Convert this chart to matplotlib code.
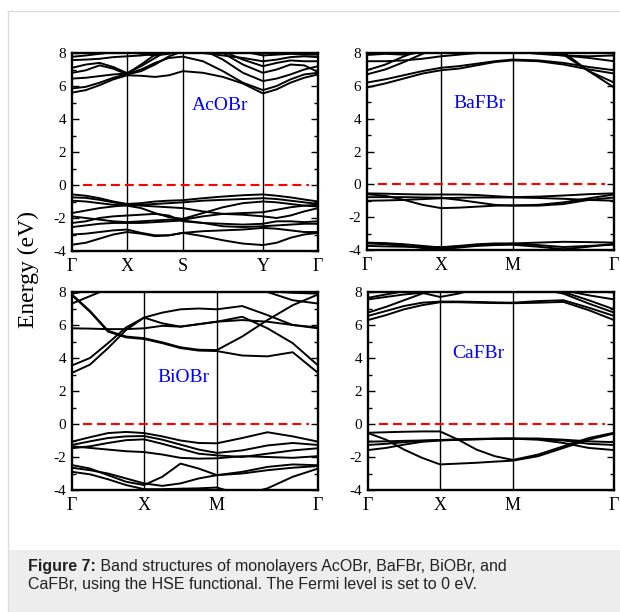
import matplotlib
matplotlib.use('Agg')
import matplotlib.pyplot as plt
import numpy as np
from matplotlib.ticker import MultipleLocator
from matplotlib.patches import Rectangle
from matplotlib.lines import Line2D

plt.rcParams['font.family'] = ['Liberation Serif', 'DejaVu Serif']
plt.rcParams['axes.unicode_minus'] = False

# ---- path labels / high-symmetry positions (fraction of path length)
acobr_labels = ['Γ', 'X', 'S', 'Y', 'Γ']
acobr_kpos = [0.0, 0.224, 0.451, 0.776, 1.0]
sq_labels = ['Γ', 'X', 'M', 'Γ']
bafbr_kpos = [0.0, 0.30, 0.59, 1.0]
biobr_kpos = [0.0, 0.293, 0.589, 1.0]
cafbr_kpos = [0.0, 0.293, 0.589, 1.0]

# ---- AcOBr bands (values at G, 3 pts, X, 3 pts, S, 3 pts, Y, 3 pts, G)
acobr_bands = [
    [-0.57, -0.65, -0.8, -1.0, -1.15, -1.1, -1.0, -0.95, -0.92, -0.8, -0.7, -0.62, -0.57, -0.65, -0.75, -0.88, -1.0],
    [-0.75, -0.78, -0.9, -1.05, -1.2, -1.2, -1.15, -1.1, -1.05, -0.95, -0.9, -0.85, -0.8, -0.85, -0.95, -1.05, -1.15],
    [-0.95, -1.0, -1.1, -1.2, -1.25, -1.4, -1.7, -1.95, -2.05, -1.7, -1.35, -1.1, -1.0, -1.05, -1.15, -1.25, -1.3],
    [-1.7, -1.55, -1.4, -1.3, -1.22, -1.25, -1.3, -1.35, -1.4, -1.6, -1.75, -1.7, -1.65, -1.5, -1.35, -1.25, -1.2],
    [-1.9, -2.0, -2.1, -2.2, -2.25, -2.2, -2.15, -2.1, -2.1, -1.9, -1.75, -1.8, -1.9, -2.0, -1.85, -1.6, -1.4],
    [-2.3, -2.2, -2.0, -1.9, -1.85, -1.8, -1.75, -1.85, -2.2, -2.3, -2.35, -2.4, -2.35, -2.2, -2.2, -2.25, -2.2],
    [-2.55, -2.45, -2.35, -2.3, -2.3, -2.3, -2.25, -2.2, -2.15, -2.3, -2.5, -2.55, -2.5, -2.45, -2.4, -2.35, -2.35],
    [-3.0, -2.95, -2.85, -2.75, -2.7, -2.9, -3.05, -3.05, -2.9, -2.8, -2.75, -2.7, -2.6, -2.65, -2.75, -2.85, -2.85],
    [-3.62, -3.5, -3.25, -3.0, -2.85, -2.95, -3.1, -3.05, -2.9, -3.1, -3.35, -3.55, -3.64, -3.5, -3.2, -3.0, -2.9],
    [5.6, 5.75, 6.05, 6.4, 6.65, 6.62, 6.55, 6.65, 6.9, 6.8, 6.55, 6.15, 5.55, 5.8, 6.2, 6.5, 6.7],
    [5.85, 5.95, 6.2, 6.5, 6.72, 7.0, 7.4, 7.7, 7.78, 7.5, 6.9, 6.2, 5.75, 6.0, 6.4, 6.7, 6.8],
    [6.45, 6.5, 6.6, 6.7, 6.75, 7.3, 7.9, 8.3, 8.5, 8.2, 7.6, 6.8, 6.3, 6.45, 6.7, 7.0, 7.2],
    [6.8, 6.95, 7.25, 7.05, 6.7, 6.9, 7.3, 7.8, 8.1, 8.3, 8.0, 7.3, 6.8, 7.0, 7.3, 7.25, 6.85],
    [7.1, 7.3, 7.4, 7.15, 6.78, 7.2, 7.7, 8.2, 8.5, 8.5, 8.1, 7.6, 7.2, 7.4, 7.55, 7.5, 7.5],
    [7.57, 7.6, 7.65, 7.75, 7.8, 7.85, 7.95, 8.0, 8.05, 8.0, 7.85, 7.7, 7.5, 7.6, 7.75, 7.8, 7.75],
    [7.77, 7.85, 7.95, 8.05, 8.1, 7.95, 7.85, 7.95, 8.2, 8.3, 8.3, 8.1, 7.85, 7.9, 7.95, 7.9, 7.9],
]

# ---- BaFBr bands (G, 3 pts, X, 3 pts, M, 3 pts, G)
bafbr_bands = [
    [-0.55, -0.57, -0.6, -0.62, -0.62, -0.62, -0.65, -0.72, -0.78, -0.75, -0.68, -0.6, -0.55],
    [-0.6, -0.7, -0.95, -1.25, -1.45, -1.42, -1.36, -1.3, -1.28, -1.25, -1.1, -0.85, -0.62],
    [-0.78, -0.78, -0.78, -0.8, -0.82, -0.95, -1.1, -1.25, -1.3, -1.3, -1.2, -0.95, -0.8],
    [-1.0, -0.98, -0.95, -0.9, -0.85, -0.82, -0.8, -0.8, -0.8, -0.83, -0.88, -0.95, -1.0],
    [-3.55, -3.58, -3.65, -3.75, -3.85, -3.75, -3.65, -3.6, -3.6, -3.55, -3.5, -3.52, -3.55],
    [-3.6, -3.65, -3.75, -3.88, -3.95, -3.85, -3.75, -3.7, -3.68, -3.8, -3.95, -3.8, -3.62],
    [-3.75, -3.78, -3.8, -3.82, -3.82, -3.78, -3.72, -3.65, -3.62, -3.7, -3.82, -3.75, -3.68],
    [5.9, 6.15, 6.45, 6.75, 6.95, 7.05, 7.25, 7.45, 7.55, 7.5, 7.3, 7.0, 6.75],
    [6.2, 6.4, 6.65, 6.9, 7.1, 7.2, 7.35, 7.5, 7.6, 7.55, 7.4, 7.15, 6.95],
    [6.7, 7.0, 7.45, 7.95, 8.3, 8.4, 8.4, 8.3, 8.2, 8.1, 7.9, 6.9, 6.2],
    [6.95, 7.3, 7.8, 8.2, 8.5, 8.6, 8.6, 8.5, 8.4, 8.3, 8.05, 6.9, 5.9],
    [7.5, 7.5, 7.55, 7.65, 7.8, 7.9, 8.0, 8.05, 8.1, 8.0, 7.85, 7.7, 7.5],
    [7.88, 7.95, 7.9, 8.05, 8.2, 8.3, 8.3, 8.2, 8.1, 7.95, 7.85, 7.8, 7.85],
]

# ---- BiOBr bands
biobr_bands = [
    [-1.07, -0.8, -0.55, -0.48, -0.55, -0.75, -1.0, -1.15, -1.17, -0.85, -0.5, -0.75, -1.07],
    [-1.27, -1.05, -0.85, -0.75, -0.73, -0.95, -1.25, -1.55, -1.75, -1.6, -1.3, -1.15, -1.27],
    [-1.47, -1.35, -1.15, -0.98, -0.93, -1.2, -1.5, -1.8, -1.9, -2.0, -1.8, -1.6, -1.47],
    [-1.35, -1.45, -1.55, -1.65, -1.7, -1.85, -2.05, -2.1, -2.08, -1.95, -2.0, -2.05, -1.95],
    [-2.49, -2.7, -3.1, -3.5, -3.7, -3.2, -2.4, -2.7, -3.1, -2.9, -2.6, -2.45, -2.5],
    [-2.9, -3.05, -3.35, -3.7, -3.95, -3.95, -3.92, -3.9, -3.85, -4.3, -3.9, -3.2, -2.7],
    [-2.65, -2.8, -3.0, -3.3, -3.6, -3.75, -3.6, -3.3, -3.1, -3.0, -2.8, -2.65, -2.55],
    [3.1, 3.6, 4.6, 5.7, 6.45, 6.75, 6.95, 7.0, 6.95, 7.15, 6.6, 6.0, 5.8],
    [3.55, 4.0, 4.9, 5.85, 6.45, 6.1, 5.9, 6.05, 6.2, 6.5, 5.8, 4.9, 3.55],
    [5.8, 5.78, 5.75, 5.75, 5.8, 5.95, 5.9, 6.05, 6.2, 6.3, 6.2, 6.0, 5.85],
    [7.8, 6.8, 5.6, 5.25, 5.15, 4.9, 4.6, 4.45, 4.42, 4.15, 4.1, 4.35, 3.1],
    [7.85, 6.85, 5.65, 5.3, 5.2, 4.95, 4.65, 4.5, 4.48, 5.3, 6.3, 7.2, 7.85],
    [7.3, 7.75, 8.2, 8.6, 8.8, 8.8, 8.8, 8.8, 8.8, 8.5, 8.0, 7.5, 7.3],
    [7.9, 8.1, 8.4, 8.6, 8.7, 8.7, 8.7, 8.7, 8.6, 8.3, 8.05, 7.95, 7.9],
]

# ---- CaFBr bands
cafbr_bands = [
    [-0.53, -0.5, -0.47, -0.45, -0.45, -0.95, -1.55, -1.95, -2.18, -1.85, -1.35, -0.85, -0.53],
    [-0.55, -0.95, -1.55, -2.05, -2.45, -2.4, -2.35, -2.28, -2.22, -1.95, -1.45, -0.95, -0.58],
    [-1.07, -1.05, -1.02, -1.0, -0.97, -0.93, -0.9, -0.88, -0.87, -0.88, -0.95, -1.05, -1.1],
    [-1.27, -1.2, -1.1, -1.02, -0.98, -0.95, -0.92, -0.9, -0.9, -0.92, -1.0, -1.2, -1.27],
    [-1.58, -1.45, -1.25, -1.08, -1.0, -0.96, -0.93, -0.9, -0.89, -0.95, -1.15, -1.45, -1.58],
    [6.3, 6.6, 6.95, 7.2, 7.38, 7.38, 7.35, 7.33, 7.32, 7.35, 7.4, 6.9, 6.3],
    [6.55, 6.85, 7.15, 7.35, 7.42, 7.42, 7.4, 7.37, 7.35, 7.45, 7.5, 7.05, 6.55],
    [6.75, 7.1, 7.5, 7.9, 8.3, 8.5, 8.6, 8.5, 8.4, 8.2, 7.9, 7.3, 6.75],
    [7.55, 7.7, 7.85, 7.95, 7.7, 7.9, 8.2, 8.4, 8.6, 8.4, 8.0, 7.5, 6.95],
    [7.65, 7.85, 8.05, 8.3, 8.5, 8.6, 8.6, 8.5, 8.4, 8.3, 8.1, 7.8, 7.55],
]

names = ['AcOBr', 'BaFBr', 'BiOBr', 'CaFBr']
name_pos = [(0.60, 0.737), (0.457, 0.746), (0.455, 0.566), (0.447, 0.69)]

W, H = 620, 612
fig = plt.figure(figsize=(W / 100, H / 100), dpi=100)

# page frame + caption box
fig.add_artist(Line2D([8 / W, 1], [1 - 11 / H, 1 - 11 / H], color='#dcdcdc', lw=1))
fig.add_artist(Line2D([8 / W, 8 / W], [0, 1 - 11 / H], color='#dcdcdc', lw=1))
fig.add_artist(Rectangle((8 / W, 0), 1 - 8 / W, 62 / H, facecolor='#ededed', edgecolor='none'))

axes_px = [(72, 53, 246, 198), (367, 53, 247, 197), (72, 292, 246, 198), (368, 292, 246, 198)]
panels = [(acobr_kpos, acobr_labels, acobr_bands),
          (bafbr_kpos, sq_labels, bafbr_bands),
          (biobr_kpos, sq_labels, biobr_bands),
          (cafbr_kpos, sq_labels, cafbr_bands)]

for (x, y, w, h), (kpos, labels, bands), name, npos in zip(axes_px, panels, names, name_pos):
    ax = fig.add_axes([x / W, 1 - (y + h) / H, w / W, h / H])
    nseg = len(kpos) - 1
    per = (len(bands[0]) - 1) // nseg
    k = np.concatenate([np.linspace(kpos[i], kpos[i + 1], per + 1)[:-1] for i in range(nseg)] + [[kpos[-1]]])
    for b in bands:
        ax.plot(k, b, color='black', lw=1.4, solid_joinstyle='round')
    for kv in kpos[1:-1]:
        ax.axvline(kv, color='black', lw=1.0)
    ax.axhline(0, xmin=0.045, xmax=0.965, color='red', lw=1.5, ls=(0, (4.3, 2.4)))
    ax.set_xlim(0, 1)
    ax.set_ylim(-4, 8)
    ax.set_xticks(kpos)
    ax.set_xticklabels(labels, fontsize=13)
    ax.tick_params(axis='x', length=0, pad=5)
    ax.yaxis.set_major_locator(MultipleLocator(2))
    ax.yaxis.set_minor_locator(MultipleLocator(1))
    ax.tick_params(axis='y', which='major', direction='in', length=5, width=1, right=True,
                   labelsize=11, pad=4)
    ax.tick_params(axis='y', which='minor', direction='in', length=3, width=1, right=True)
    for s in ax.spines.values():
        s.set_linewidth(1.7)
    ax.text(npos[0], npos[1], name, transform=ax.transAxes, color='blue', fontsize=14,
            ha='center', va='center')

fig.text(28 / W, 1 - 270 / H, 'Energy (eV)', rotation=90, fontsize=17, ha='center', va='center')

# caption
cap_font = ['Liberation Sans', 'DejaVu Sans']
t1 = fig.text(28 / W, 1 - 567 / H, 'Figure 7:', fontweight='bold', fontsize=11.5,
              family=cap_font, va='center', color='#222222')
renderer = fig.canvas.get_renderer()
bb = t1.get_window_extent(renderer)
fig.text(bb.x1 / W, 1 - 567 / H, ' Band structures of monolayers AcOBr, BaFBr, BiOBr, and',
         fontsize=11.5, family=cap_font, va='center', color='#222222')
fig.text(28 / W, 1 - 585 / H, 'CaFBr, using the HSE functional. The Fermi level is set to 0 eV.',
         fontsize=11.5, family=cap_font, va='center', color='#222222')

fig.savefig('out.png', dpi=100)
